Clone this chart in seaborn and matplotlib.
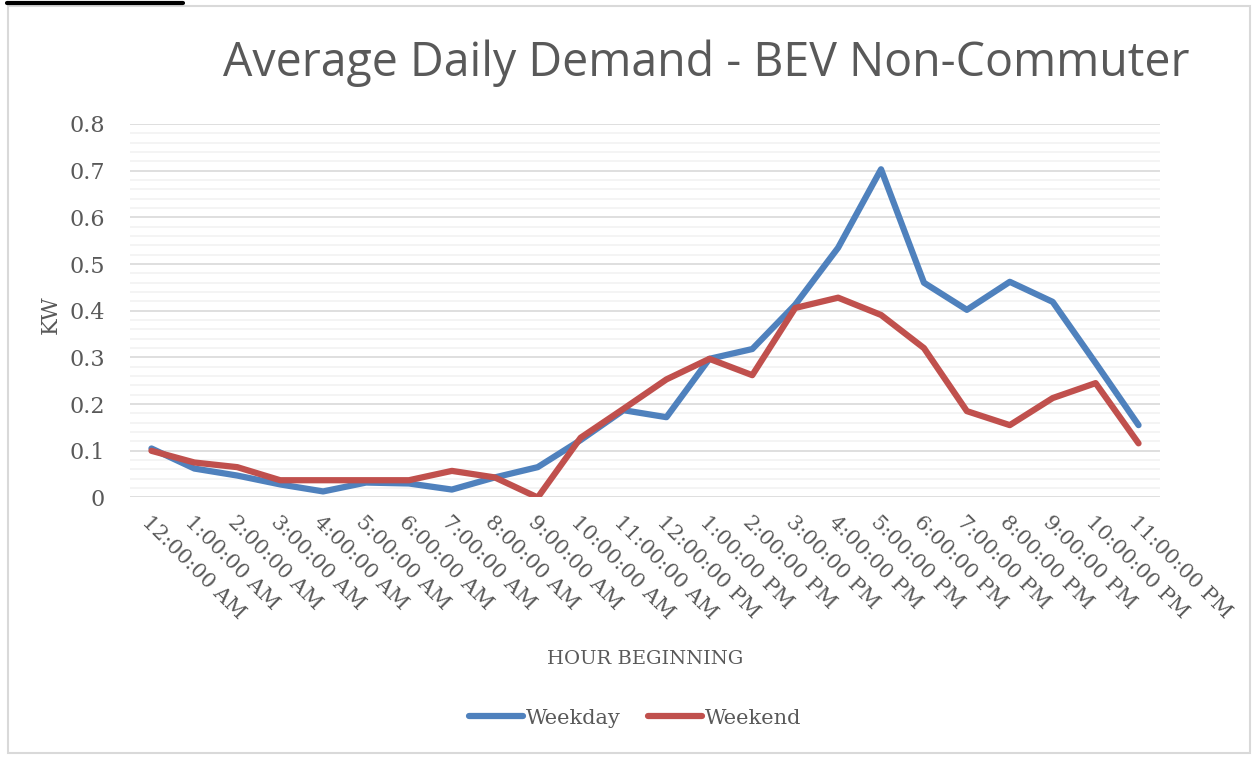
import matplotlib
matplotlib.use("Agg")
import matplotlib.pyplot as plt
import seaborn as sns
import pandas as pd
import numpy as np
from matplotlib.patches import Rectangle
from matplotlib.lines import Line2D
from matplotlib.ticker import MultipleLocator

hours = ["12:00:00 AM", "1:00:00 AM", "2:00:00 AM", "3:00:00 AM", "4:00:00 AM", "5:00:00 AM",
         "6:00:00 AM", "7:00:00 AM", "8:00:00 AM", "9:00:00 AM", "10:00:00 AM", "11:00:00 AM",
         "12:00:00 PM", "1:00:00 PM", "2:00:00 PM", "3:00:00 PM", "4:00:00 PM", "5:00:00 PM",
         "6:00:00 PM", "7:00:00 PM", "8:00:00 PM", "9:00:00 PM", "10:00:00 PM", "11:00:00 PM"]
weekday = [0.105, 0.062, 0.047, 0.028, 0.013, 0.032, 0.030, 0.017, 0.043, 0.065, 0.123, 0.187,
           0.172, 0.297, 0.318, 0.413, 0.535, 0.703, 0.460, 0.402, 0.462, 0.419, 0.288, 0.155]
weekend = [0.100, 0.075, 0.065, 0.037, 0.037, 0.037, 0.037, 0.057, 0.043, 0.000, 0.128, 0.190,
           0.253, 0.297, 0.262, 0.406, 0.428, 0.391, 0.320, 0.185, 0.155, 0.213, 0.245, 0.116]
series_names = ["Weekday", "Weekend"]
colors = ["#4F81BD", "#C0504D"]

df = pd.DataFrame({
    "pos": list(range(len(hours))) * 2,
    "kw": weekday + weekend,
    "series": [series_names[0]] * len(hours) + [series_names[1]] * len(hours),
})

sns.set_style("white")
W, H = 1255, 759
fig = plt.figure(figsize=(W / 100, H / 100), dpi=100)
ax = fig.add_axes([130 / W, 1 - 497.5 / H, (1160 - 130) / W, (497.5 - 124) / H])

sns.lineplot(data=df, x="pos", y="kw", hue="series", palette=colors, linewidth=4.5,
             ax=ax, legend=False, solid_capstyle="round")

ax.set_xlim(-0.5, len(hours) - 0.5)
ax.set_ylim(0, 0.8)
ax.yaxis.set_major_locator(MultipleLocator(0.1))
ax.yaxis.set_minor_locator(MultipleLocator(0.02))
ax.grid(which="major", axis="y", color="#D9D9D9", linewidth=1.2, zorder=0)
ax.grid(which="minor", axis="y", color="#F2F2F2", linewidth=1.2, zorder=0)
ax.grid(which="major", axis="x", visible=False)
ax.set_axisbelow(True)
for s in ax.spines.values():
    s.set_visible(False)

serif = ["DejaVu Serif"]
gray = "#595959"
ax.set_xticks(range(len(hours)))
ax.set_xticklabels(hours, rotation=-45, ha="left", va="top", rotation_mode="anchor",
                   fontsize=15, color=gray, family=serif)
ax.set_yticks(np.arange(0, 0.81, 0.1))
ax.set_yticklabels(["0"] + [f"{v:.1f}" for v in np.arange(0.1, 0.81, 0.1)],
                   fontsize=16, color=gray, family=serif)
ax.tick_params(axis="x", length=0, pad=11)
ax.tick_params(axis="y", length=0, pad=18, which="both")

ax.set_xlabel("HOUR BEGINNING", fontsize=14, color=gray, family=serif, labelpad=0)
ax.xaxis.set_label_coords((645 - 130) / (1160 - 130), -(650 - 497.5) / (497.5 - 124))
ax.set_ylabel("KW", fontsize=16, color=gray, family=serif)
ax.yaxis.set_label_coords(-(130 - 62) / (1160 - 130), (497.5 - 315) / (497.5 - 124))

fig.text(706 / W, 1 - 63 / H, "Average Daily Demand - BEV Non-Commuter", ha="center", va="center",
         fontsize=33.5, color=gray, family=["Open Sans", "DejaVu Sans"])

handles = [Line2D([0], [0], color=c, lw=4.5, solid_capstyle="round") for c in colors]
fig.legend(handles, series_names, loc="center", bbox_to_anchor=(635 / W, 1 - 718 / H), ncol=2,
           frameon=False, handlelength=2.6, handletextpad=0.15, columnspacing=1.3,
           prop={"family": serif, "size": 15}, labelcolor=gray)

fig.patches.append(Rectangle((8 / W, 1 - 753 / H), (1250 - 8) / W, (753 - 6) / H,
                             transform=fig.transFigure, fill=False, edgecolor="#D9D9D9", lw=1.5))
fig.add_artist(Line2D([7 / W, 183 / W], [1 - 3 / H, 1 - 3 / H], transform=fig.transFigure,
                      color="black", lw=3))

fig.savefig("out.png", dpi=100, facecolor="white")
